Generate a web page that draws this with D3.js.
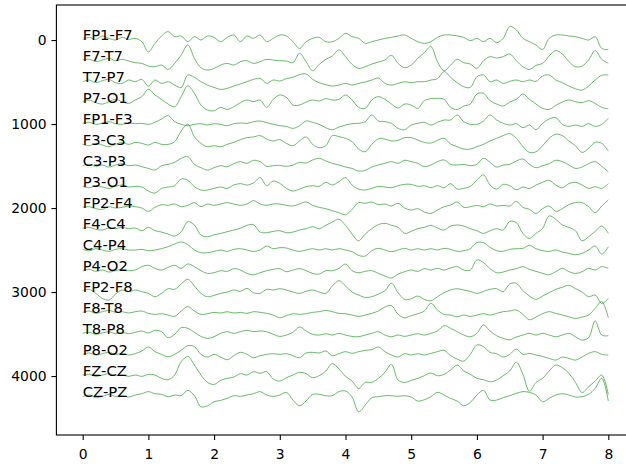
<!DOCTYPE html>
<html>
<head>
<meta charset="utf-8">
<script src="https://cdn.jsdelivr.net/npm/d3@7"></script>
<style>
  body { margin: 0; background: #fff; }
  svg { display: block; }
</style>
</head>
<body>
<div id="eeg-chart"></div>
<script>
// channel names, top to bottom
const channelNames = [
  "FP1-F7", "F7-T7", "T7-P7", "P7-O1", "FP1-F3", "F3-C3", "C3-P3", "P3-O1",
  "FP2-F4", "F4-C4", "C4-P4", "P4-O2", "FP2-F8", "F8-T8", "T8-P8", "P8-O2",
  "FZ-CZ", "CZ-PZ"
];

// sample times (s), one value every 0.1 s
const sampleTimes = d3.range(81).map((i) => i / 10);

// amplitudes, one row of 10 samples per second
const fp1f7 = [
  -8, -32, -8, -48, -20, 0, -32, -8, -20, 20,
  140, 40, -48, -100, -40, -48, 20, -40, 0, -48,
  -32, 20, -32, -60, 20, -48, -20, -60, 20, -20,
  -60, -48, 20, 100, 20, -20, -32, 20, 20, -20,
  -80, -40, -20, 40, 20, 0, -20, -32, -48, -60,
  -20, 20, 40, 20, -32, -60, -60, -48, -32, 8,
  -20, 20, -20, 32, -20, -160, -120, -20, 20, 60,
  112, -20, -60, -60, -48, -40, -20, 0, -40, 100,
  112
];
const f7t7 = [
  -12, -20, 8, -12, -32, -4, -20, 0, 20, 28,
  60, 68, 48, 100, 28, -72, -192, -32, 80, 108,
  88, 48, 28, 48, 8, -4, 28, 8, -20, -12,
  -4, 0, 20, -92, 8, 116, 40, -20, -60, -132,
  -52, 40, 88, 68, 36, 12, -12, -68, 28, 80,
  48, -32, -100, -172, 8, 116, 48, -20, 20, 36,
  88, -4, -52, -36, -52, -84, -4, 68, 100, 52,
  28, -60, -124, -84, 8, 68, 60, -12, -124, -20,
  28
];
const t7p7 = [
  -4, -24, 8, -16, -32, 8, 16, -24, -4, -32,
  48, -24, 16, -4, 36, 64, -84, -56, -4, 36,
  64, 88, 76, 48, 24, -4, -32, -44, 16, -24,
  -12, -40, -56, -88, -96, -32, 8, 32, 48, 36,
  16, 36, 16, 0, -24, -48, 16, 36, 16, -4,
  8, -4, -4, -24, -40, -124, -56, 8, 56, 64,
  -64, -84, -4, -24, 16, -8, -24, -4, -24, -8,
  -72, -84, -24, 8, 48, 80, 96, 48, -24, -80,
  -84
];
const p7o1 = [
  -16, -36, -4, 12, -16, -44, -16, 4, -36, -76,
  -164, -96, -44, 12, 44, -76, -204, -116, 24, 84,
  92, 52, 76, 44, -4, -36, -16, -36, 52, -44,
  -96, -68, 24, 24, -12, -36, -24, -52, -36, -44,
  -96, -36, 52, 64, -36, -76, -44, 12, 60, 12,
  24, 64, -28, -52, -56, -44, 52, 76, 36, 12,
  -108, -116, -28, 12, 36, -12, -44, -108, -44, 12,
  64, 76, 28, -12, -36, -16, -4, -28, 4, 52,
  68
];
const fp1f3 = [
  -8, -20, 4, -8, -28, -4, 4, -12, -4, -8,
  4, -20, -60, -100, -28, 4, 20, 4, -4, 12,
  -4, 4, 20, -4, -12, -8, -28, -36, -16, 4,
  20, 28, 52, 20, -36, -20, 4, 44, 68, 36,
  12, -4, -8, -28, -108, -36, -28, -8, 52, 68,
  12, -8, -20, 12, -20, -48, -48, -108, -28, 4,
  4, -36, -108, -48, -8, 12, -4, 44, 12, 68,
  -8, -60, -76, 4, 28, 12, 28, -4, 28, 4,
  -68
];
const f3c3 = [
  -8, 8, -20, 0, 20, -8, -32, -8, -32, -20,
  0, -32, -8, -8, -40, -168, -248, -100, -20, 20,
  8, 20, -8, -32, -64, -88, -96, -112, -72, -48,
  -64, -20, 8, -48, -96, -8, 32, 8, -112, -100,
  -80, -40, 48, 80, -8, -72, -72, -48, -56, -88,
  -88, -60, -32, -24, -56, -80, -12, 20, 48, 48,
  20, -8, -48, -80, -112, -136, -80, 20, 88, 80,
  8, -80, -128, -112, -48, 8, 88, 40, -32, -20,
  72
];
const c3p3 = [
  -4, -20, 4, -12, 12, -12, -28, -4, -12, 8,
  28, 48, -4, -20, -44, -92, -112, -20, 20, 48,
  20, -4, 8, -28, -52, -32, -68, -52, 4, -4,
  -8, 4, -12, -44, -36, -72, -92, -60, -32, -12,
  12, 28, 60, 52, 12, -12, -32, -52, -32, -68,
  -52, -32, 8, -12, -52, -72, -20, -12, -20, -4,
  -20, -92, -44, 12, -12, -20, -60, -84, -20, 20,
  -4, -28, -68, -52, -12, 28, 12, -28, -52, 4,
  68
];
const p3o1 = [
  -8, 8, -16, 0, 16, -8, -24, 0, -8, 0,
  48, 72, 16, 0, -16, -96, -80, -4, 36, 36,
  16, 0, 16, -24, -40, -24, -48, -112, -16, -72,
  -44, 16, 48, 24, -4, -16, -8, -56, -24, -64,
  -112, -24, 24, 36, 16, -8, 0, 8, -16, -32,
  -32, -8, -16, 8, -16, 8, -40, 24, 16, -8,
  -84, -144, -24, 24, -32, -16, 32, 0, 16, -24,
  -56, -80, -24, 8, -40, -56, -24, 16, -4, 16,
  -40
];
const fp2f4 = [
  -8, -16, 8, 16, -16, 0, -8, -24, -16, 0,
  40, -8, -40, -32, -48, -16, -32, -64, -16, -48,
  -32, -48, -64, -48, -32, -48, -88, -48, -32, -48,
  -48, -32, -24, -48, -72, -32, -8, 8, 32, 56,
  80, 16, -64, -56, -72, -40, -48, -24, -56, 0,
  24, 8, 48, 64, 24, -16, -36, -72, -8, -16,
  -32, -16, -48, -24, -32, -24, -80, -8, 16, 64,
  8, -24, 40, 8, -40, -64, -64, -16, 56, -24,
  -96
];
const f4c4 = [
  -8, -20, 4, 12, -12, -4, -20, -4, -12, 20,
  -20, 20, 36, 60, 84, 32, -88, -48, 72, 92,
  68, 52, 32, 12, -8, -44, -52, 36, 44, 28,
  20, 44, 36, 12, -4, -28, -4, -44, -84, -116,
  -44, 60, 140, 60, -4, -52, -68, -44, -20, 52,
  28, -4, -20, -44, -12, 12, -36, -48, -36, -4,
  20, 52, 20, -4, 12, -92, -76, 52, 112, 52,
  -8, -156, -116, -48, -20, 20, 140, 92, 28, -36,
  52
];
const c4p4 = [
  -8, 8, -16, 0, 16, -8, -16, 0, 0, -8,
  8, 0, -16, -40, -72, -96, -64, 0, 32, 32,
  16, 0, 16, -8, -16, 0, 16, 0, -48, -16,
  -28, -24, 0, 16, 0, -16, 0, -16, 0, -16,
  0, 20, 64, 72, 8, -20, 0, 20, 0, -20,
  0, -16, 0, -16, 0, -20, -8, 16, 8, -16,
  -88, -88, -32, 8, 16, -8, -16, -20, -56, -16,
  8, 16, 0, 24, 40, 56, 40, 0, -48, 48,
  -40
];
const p4o2 = [
  -4, -20, 4, -12, 12, -4, -20, -4, -12, -52,
  -68, -32, -12, -44, -68, -32, -84, -52, -4, 28,
  20, -4, 4, -28, -12, 28, 44, 20, -4, -20,
  -28, 8, -12, -28, -4, 28, 36, -4, -4, -32,
  -84, -4, 20, 4, -4, 28, 60, 84, 36, 8,
  -12, 4, -28, -12, -32, -12, -36, -52, -12, -12,
  -132, -100, -28, 20, 12, -12, -28, -52, -20, 4,
  28, 44, 8, -32, 8, 28, 8, -32, -12, -52,
  -32
];
const fp2f8 = [
  -16, -32, 16, 76, 96, 24, -24, -4, -24, -4,
  16, 56, 16, -40, -32, -96, -152, -72, 16, 56,
  40, 16, 0, -24, -8, -44, 8, 16, -32, -24,
  -40, -24, 0, 16, -8, -24, 0, 16, -72, -136,
  -72, 0, 36, 64, 56, 24, -16, -104, 8, 88,
  80, 48, 88, 104, 56, 8, -24, -40, -24, -8,
  16, -8, -32, -40, -4, -96, -104, -16, 48, 88,
  48, 8, -32, -56, -80, -40, 0, 56, 36, 136,
  76
];
const f8t8 = [
  -8, -24, 4, -16, -32, -8, -16, 0, -16, -24,
  4, 16, 8, 24, 40, -24, -76, -24, 16, 8,
  -8, 0, -16, 0, -8, 4, -16, -8, 4, 24,
  56, 32, 8, 16, 8, -8, -16, -32, -16, 4,
  8, 24, 40, 24, 4, -24, -72, -88, 16, 56,
  32, 8, -24, -116, -36, 16, 24, 44, 24, 40,
  24, 8, 24, 4, -16, -24, -36, 16, 80, 48,
  8, -16, 4, 24, 44, 64, 48, 24, -56, -136,
  56
];
const t8p8 = [
  -8, -20, 4, -12, -28, -4, -20, -4, -20, -36,
  -12, -44, -28, 44, 4, -76, -68, -20, 28, 52,
  32, -8, -28, -8, -28, -44, -28, -36, -28, 4,
  28, 12, -20, -84, -36, 4, 12, -4, 12, -8,
  12, 28, 32, 12, -8, -28, 12, 32, 12, 28,
  12, -4, 12, -8, -36, -100, -68, -28, 12, 32,
  -8, -108, -36, 20, 52, 68, 36, 12, -8, 12,
  -8, 12, 32, 12, -8, 32, 72, 44, -156, 12,
  20
];
const p8o2 = [
  -8, -24, 0, -16, -32, -8, -16, 0, -16, -48,
  -96, -40, -8, 20, -8, -56, -112, -100, -8, 24,
  -8, 24, 56, 8, -32, -8, 32, 8, -8, -16,
  -8, -16, 8, 32, -24, -32, -24, -48, 8, -16,
  -40, -20, -40, -56, -64, -96, -40, 0, 24, -16,
  0, -16, 0, -20, -40, -56, 8, 48, 72, -8,
  -120, -100, -32, -16, 24, -8, -72, -8, -20, 0,
  16, 40, 60, 24, 40, 60, 24, -20, -40, -8,
  0
];
const fzcz = [
  -12, -20, 4, -12, -28, -4, -12, 4, -12, 4,
  -20, -12, 28, 44, -12, -172, -232, -132, -12, 76,
  100, 52, 28, 12, -28, -12, -52, -32, -52, 36,
  60, 20, -12, -44, -28, 20, -4, -60, -148, -84,
  4, 60, 148, 76, 76, 28, -44, -140, 48, 76,
  52, 28, -4, -36, -4, -20, -72, -132, -60, -20,
  28, 44, 68, 48, -4, -60, -164, -20, 180, 76,
  28, -60, -132, -100, -32, 76, 196, 128, 60, -12,
  220
];
const czpz = [
  -4, -24, 8, -8, -32, -8, -16, 0, -24, -40,
  -64, -40, -32, -4, -24, -16, -80, -16, 116, 104,
  56, 40, 16, -16, -8, -24, -40, -64, -24, -8,
  -24, -56, 36, 104, 48, -32, -32, -16, -16, -64,
  -72, 0, 176, 96, 8, -4, -16, -16, -8, -16,
  0, 48, 32, -4, -56, -24, 16, 48, 104, 64,
  -24, -80, 36, 36, 8, -16, -44, -64, -56, -24,
  56, 16, -24, -40, -24, 0, -4, -32, -104, -224,
  48
];

const channelData = [
  fp1f7, f7t7, t7p7, p7o1, fp1f3, f3c3, c3p3, p3o1,
  fp2f4, f4c4, c4p4, p4o2, fp2f8, f8t8, t8p8, p8o2,
  fzcz, czpz
];

// tick labels
const xTicks = [0, 1, 2, 3, 4, 5, 6, 7, 8];
const yTicks = [0, 1000, 2000, 3000, 4000];

const channelSpacing = 250;

function drawEEG(chartId) {
  const width = 626;
  const height = 464;
  const font = "'DejaVu Sans', sans-serif";

  const svg = d3
    .select(`#${chartId}`)
    .append("svg")
    .attr("width", width)
    .attr("height", height)
    .style("background", "#fff");

  // matplotlib-like limits (5% margins), y axis inverted
  const x = d3.scaleLinear().domain([-0.4, 8.4]).range([56.4, 634.6]);
  const y = d3.scaleLinear().domain([-417, 4702]).range([5, 435]);

  const line = d3
    .line()
    .curve(d3.curveCatmullRom.alpha(0.5))
    .x((d) => x(d[0]))
    .y((d) => y(d[1]));

  // traces
  channelData.forEach((values, i) => {
    const offset = i * channelSpacing;
    const points = values.map((v, k) => [sampleTimes[k], offset + v]);
    svg
      .append("path")
      .attr("d", line(points))
      .attr("fill", "none")
      .attr("stroke", "#3aa63a")
      .attr("stroke-width", 0.9)
      .attr("stroke-opacity", 0.85)
      .attr("stroke-linejoin", "round");
  });

  // channel labels on top of the traces
  channelNames.forEach((name, i) => {
    svg
      .append("text")
      .attr("x", x(0))
      .attr("y", y(i * channelSpacing))
      .attr("font-family", font)
      .attr("font-size", "14.8px")
      .attr("fill", "#000")
      .text(name);
  });

  // axes
  const xAxis = svg
    .append("g")
    .attr("transform", "translate(0,435)")
    .call(d3.axisBottom(x).tickValues(xTicks).tickSize(4.9).tickPadding(9.2).tickFormat(d3.format("d")));

  const yAxis = svg
    .append("g")
    .attr("transform", "translate(56.4,0)")
    .call(d3.axisLeft(y).tickValues(yTicks).tickSize(4.9).tickPadding(4.9).tickFormat(d3.format("d")));

  [xAxis, yAxis].forEach((g) => {
    g.select(".domain").remove();
    g.selectAll("line").attr("stroke", "#000").attr("stroke-width", 1.1);
    g.selectAll("text")
      .attr("font-family", font)
      .attr("font-size", "13.9px")
      .attr("fill", "#000");
  });

  // frame (right side falls outside the picture)
  svg
    .append("rect")
    .attr("x", 56.4)
    .attr("y", 5)
    .attr("width", 634.6 - 56.4)
    .attr("height", 430)
    .attr("fill", "none")
    .attr("stroke", "#000")
    .attr("stroke-width", 1.1);
}

drawEEG("eeg-chart");
</script>
</body>
</html>
